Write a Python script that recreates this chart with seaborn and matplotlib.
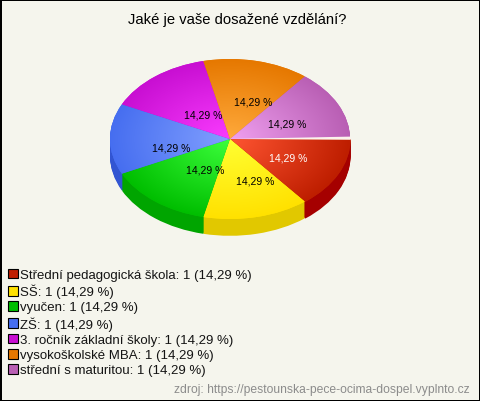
import numpy as np
import matplotlib
matplotlib.use('Agg')
import matplotlib.pyplot as plt
from matplotlib.patches import Patch
import seaborn as sns

# data
categories = ['Střední pedagogická škola', 'SŠ', 'vyučen', 'ZŠ',
              '3. ročník základní školy', 'vysokoškolské MBA', 'střední s maturitou']
counts = [1, 1, 1, 1, 1, 1, 1]
percent_labels = ['14,29 %', '14,29 %', '14,29 %', '14,29 %', '14,29 %', '14,29 %', '14,29 %']

title = 'Jaké je vaše dosažené vzdělání?'
source = 'zdroj: https://pestounska-pece-ocima-dospel.vyplnto.cz'

# colours
edge_colors = ['#BE1E00', '#FFE100', '#00BE00', '#466EF0', '#C80FD2', '#E67800', '#B95FB4']
center_colors = ['#FF5532', '#FFFF32', '#3CFF3C', '#82A0FF', '#FA3CFF', '#FFAA3C', '#F0A0F0']
side_colors = ['#A50000', '#E1C800', '#00A500', '#3255D2', '#9A0AA0', '#B45F00', '#8C4888']
label_colors = ['white', 'black', 'black', 'black', 'black', 'black', 'black']
bg = '#F5F5ED'

sns.set_theme(style='white')
plt.rcParams['font.family'] = ['Liberation Sans', 'DejaVu Sans']

fig = plt.figure(figsize=(4.8, 4.02), dpi=100, facecolor=bg, edgecolor='black', linewidth=2)
ax = fig.add_axes([0, 0, 1, 1])
ax.set_facecolor('none')
ax.axis('off')

explode = [0.005, 0, 0, 0, 0, 0, 0]
no_edge = {'linewidth': 0, 'edgecolor': 'none'}

# side of the cylinder: the same pie stacked downwards
for off in np.linspace(0.21, 0.0125, 17):
    ax.pie(counts, startangle=0, counterclock=False, explode=explode,
           colors=sns.color_palette(side_colors), center=(0, -off), frame=True,
           wedgeprops=no_edge)

wedges, texts = ax.pie(counts, startangle=0, counterclock=False, explode=explode,
                       colors=sns.color_palette(edge_colors), frame=True,
                       labels=percent_labels, labeldistance=0.55, wedgeprops=no_edge,
                       textprops={'fontsize': 7.5, 'ha': 'center', 'va': 'center'})

# label nudges in pixels (the original does not sit them on one radius)
nudges = [(-2, -1), (11, -1), (16, -4), (7, 9), (14, 10), (9, 5), (-2, 4)]

# radial gradient on each slice
g = np.linspace(-1.05, 1.05, 300)
xx, yy = np.meshgrid(g, g)
t = np.clip(np.sqrt(xx ** 2 + yy ** 2), 0, 1)[..., None]
for w, c0, c1, txt, lc, nd in zip(wedges, center_colors, edge_colors, texts, label_colors, nudges):
    rgb0 = np.array(matplotlib.colors.to_rgb(c0))
    rgb1 = np.array(matplotlib.colors.to_rgb(c1))
    img = rgb0 * (1 - t) + rgb1 * t
    im = ax.imshow(img, extent=(-1.05, 1.05, -1.05, 1.05), origin='lower',
                   interpolation='bilinear', zorder=w.get_zorder() + 0.5)
    im.set_clip_path(w)
    px, py = txt.get_position()
    txt.set_position((px + nd[0] / 120, py - nd[1] / 80))
    txt.set_color(lc)
    txt.set_zorder(5)

# light gap above the pulled-out slice
ax.fill([0, 1.005, 1.005], [0, 0.03, -0.01], color='#FBF3EC', lw=0, zorder=4)

# 1 unit = 120 px across and 80 px down, centre at pixel (230, 140)
ax.set_aspect('auto')
ax.set_xlim(-230 / 120, 250 / 120)
ax.set_ylim(-(402 - 140) / 80, 140 / 80)
ax.set_xticks([])
ax.set_yticks([])

fig.text(237 / 480, 1 - 20 / 402, title, ha='center', va='center', fontsize=10.65, color='black')

handles = [Patch(facecolor=c, edgecolor='black', linewidth=0.8) for c in edge_colors]
labels = [f'{c}: {n} ({p})' for c, n, p in zip(categories, counts, percent_labels)]
fig.legend(handles, labels, loc='upper left', bbox_to_anchor=(7.5 / 480, 1 - 269.5 / 402),
           frameon=False, fontsize=9.5, handlelength=0.76, handleheight=0.76,
           handletextpad=0.2, labelspacing=0.21, borderpad=0, borderaxespad=0,
           labelcolor='#141414')

fig.text(470 / 480, 1 - 390 / 402, source, ha='right', va='center', fontsize=8.7, color='#8C8C8C')

fig.savefig('out.png', dpi=100)
